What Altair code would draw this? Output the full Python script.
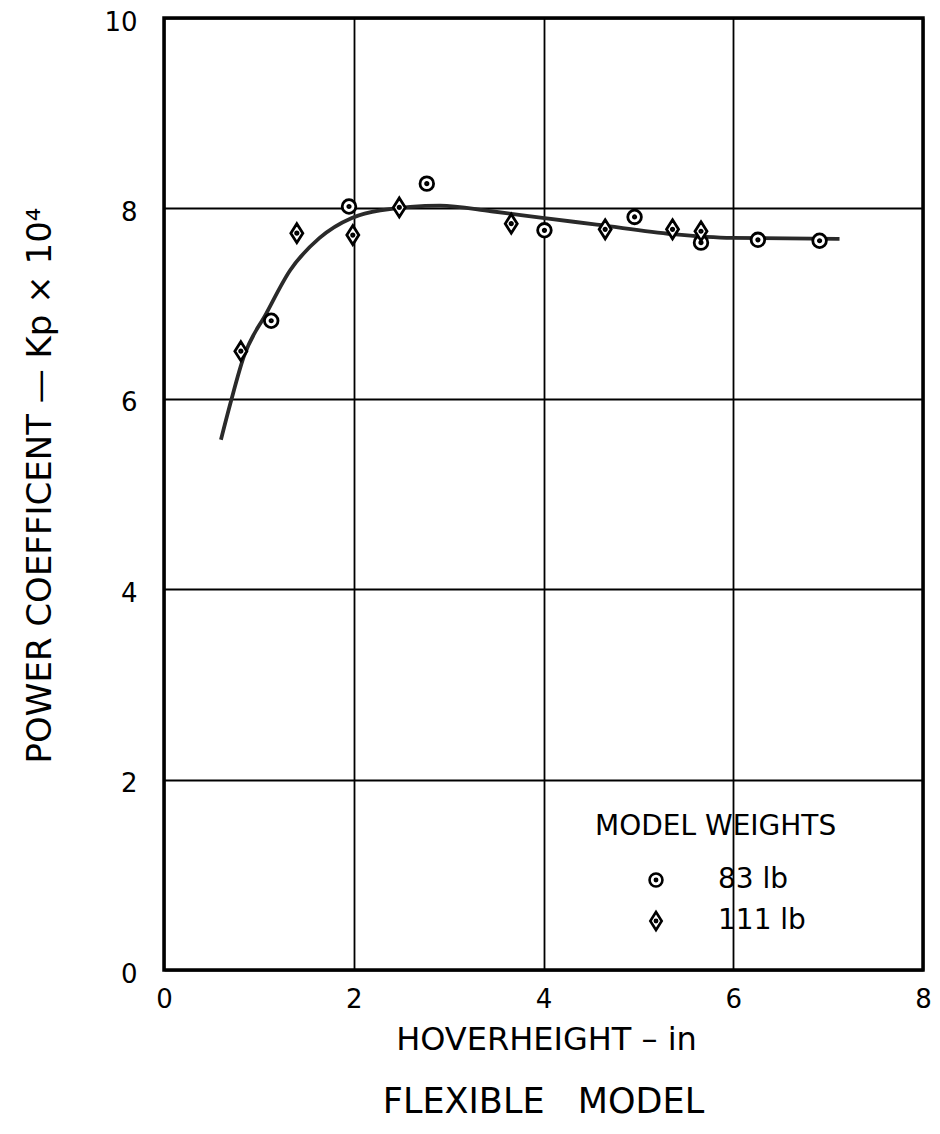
import altair as alt
import pandas as pd

# ---- data ----
w83_x = [1.13, 1.95, 2.77, 4.01, 4.96, 5.66, 6.26, 6.91]
w83_y = [6.82, 8.02, 8.26, 7.77, 7.91, 7.64, 7.67, 7.66]

w111_x = [0.81, 1.40, 1.99, 2.48, 3.66, 4.65, 5.36, 5.66]
w111_y = [6.50, 7.74, 7.72, 8.01, 7.84, 7.78, 7.78, 7.76]

curve_x = [0.60, 0.71, 0.84, 1.08, 1.33, 1.64, 1.98, 2.28, 2.91, 3.45, 3.99, 4.56, 5.36, 5.99, 7.12]
curve_y = [5.57, 5.99, 6.44, 6.90, 7.35, 7.69, 7.90, 7.98, 8.03, 7.97, 7.90, 7.83, 7.73, 7.69, 7.68]

weights = ["83 lb", "111 lb"]
x_ticks = [0, 2, 4, 6, 8]
y_ticks = [0, 2, 4, 6, 8, 10]

pts = pd.DataFrame({
    "h": w83_x + w111_x,
    "kp": w83_y + w111_y,
    "weight": [weights[0]] * len(w83_x) + [weights[1]] * len(w111_x),
})
curve = pd.DataFrame({"h": curve_x, "kp": curve_y})

FONT = "DejaVu Sans"
CIRCLE = ("M-0.68,0A0.68,0.68,0,1,0,0.68,0A0.68,0.68,0,1,0,-0.68,0Z "
          "M-0.12,0A0.12,0.12,0,1,0,0.12,0A0.12,0.12,0,1,0,-0.12,0Z")
DIAMOND = ("M0,-0.95L0.6,0L0,0.95L-0.6,0Z "
           "M-0.12,0A0.12,0.12,0,1,0,0.12,0A0.12,0.12,0,1,0,-0.12,0Z")

xscale = alt.Scale(domain=[0, 8], nice=False, zero=False)
yscale = alt.Scale(domain=[0, 10], nice=False)

xaxis = alt.Axis(
    values=x_ticks, format="d", title="HOVERHEIGHT – in",
    grid=True, ticks=False, tickSize=0, domain=False, labelFlush=False,
    labelFontSize=26, labelPadding=16, labelBaseline="top",
    titleFontSize=32, titleFontWeight="normal",
    titleX=382, titleY=69, titleBaseline="middle", titleAlign="center",
)
yaxis = alt.Axis(
    values=y_ticks, format="d", title="POWER COEFFICENT — Kp × 10⁴",
    grid=True, ticks=False, tickSize=0, domain=False, labelFlush=False,
    labelFontSize=26, labelPadding=27, labelBaseline="middle", labelAlign="right",
    labelOffset=4,
    titleFontSize=34, titleFontWeight="normal", titleAngle=270,
    titleX=-124, titleY=467, titleBaseline="middle", titleAlign="center",
    titleLimit=900,
)

line = alt.Chart(curve).mark_line(
    interpolate="monotone", color="#2a2a2a", strokeWidth=3.8
).encode(
    x=alt.X("h:Q", scale=xscale, axis=xaxis),
    y=alt.Y("kp:Q", scale=yscale, axis=yaxis),
)

points = alt.Chart(pts).mark_point(
    filled=False, color="black", strokeWidth=2.8, size=400, opacity=1
).encode(
    x=alt.X("h:Q", scale=xscale),
    y=alt.Y("kp:Q", scale=yscale),
    fill=alt.value("white"),
    shape=alt.Shape(
        "weight:N",
        scale=alt.Scale(domain=weights, range=[CIRCLE, DIAMOND]),
        legend=alt.Legend(
            title="MODEL WEIGHTS", orient="none", legendX=431, legendY=795,
            titleFontSize=28, titleFontWeight="normal", titleColor="black",
            titleLimit=500, titlePadding=25,
            labelFontSize=28, labelColor="black", labelLimit=300,
            symbolSize=360, symbolStrokeWidth=2.6,
            symbolOffset=47, labelOffset=48, rowPadding=12, padding=0,
        ),
    ),
)

chart = alt.layer(line, points).properties(
    width=759, height=952,
    autosize=alt.AutoSizeParams(type="none"),
    padding={"left": 156, "top": 10, "right": 8, "bottom": 154},
    title=alt.TitleParams(
        "FLEXIBLE\u00a0\u00a0\u00a0MODEL", orient="bottom", fontSize=35,
        fontWeight="normal", font=FONT, color="black", offset=30, anchor="middle",
    ),
).configure(
    font=FONT,
).configure_view(
    stroke="black", strokeWidth=3.5,
).configure_axis(
    gridColor="black", gridWidth=1.8, gridOpacity=1,
    labelColor="black", titleColor="black", labelFont=FONT, titleFont=FONT,
).configure_legend(
    labelFont=FONT, titleFont=FONT,
)

chart.save("out.html", embed_options={"renderer": "svg", "actions": False})
